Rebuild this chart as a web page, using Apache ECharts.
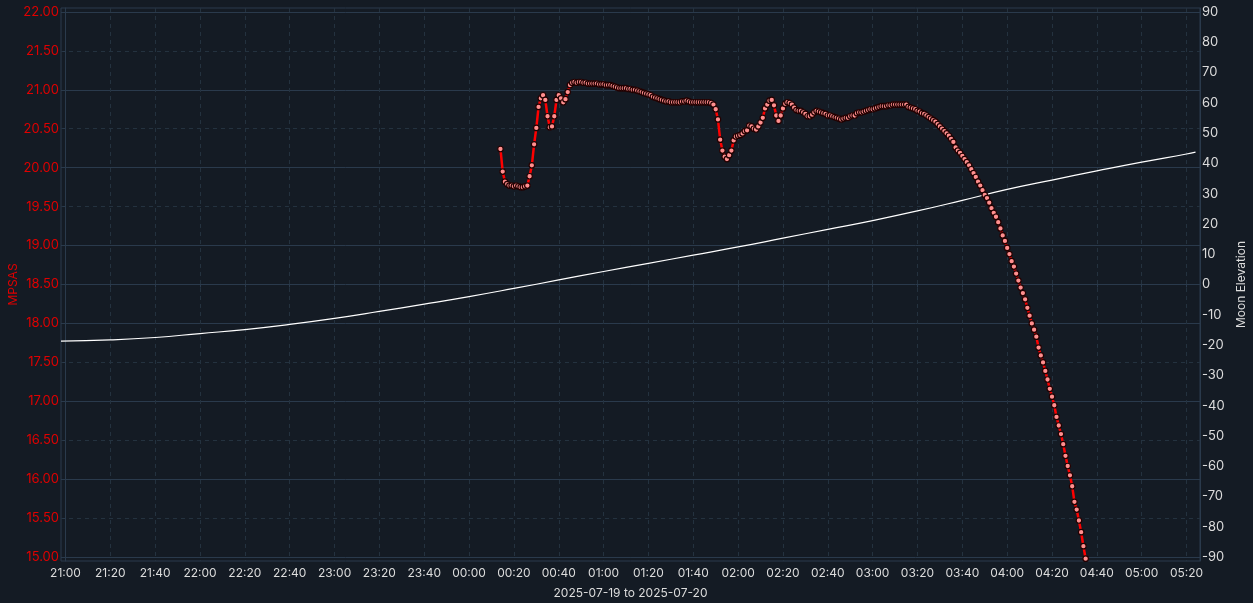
<!DOCTYPE html>
<html>
<head>
<meta charset="utf-8">
<script src="https://cdn.jsdelivr.net/npm/echarts@6/dist/echarts.min.js"></script>
<style>
html,body{margin:0;padding:0;background:#141b24;}
#chart{width:1253px;height:603px;}
</style>
</head>
<body>
<div id="chart"></div>
<script>
// ---- data ----
const axisTitle = '2025-07-19 to 2025-07-20';
const mpsasTicks = [15, 15.5, 16, 16.5, 17, 17.5, 18, 18.5, 19, 19.5, 20, 20.5, 21, 21.5, 22];
const mpsasMajor = [15, 16, 17, 18, 19, 20, 21, 22];
const moonTicks = [-90, -80, -70, -60, -50, -40, -30, -20, -10, 0, 10, 20, 30, 40, 50, 60, 70, 80, 90];
const timeTicks = ['21:00','21:20','21:40','22:00','22:20','22:40','23:00','23:20','23:40','00:00','00:20','00:40',
  '01:00','01:20','01:40','02:00','02:20','02:40','03:00','03:20','03:40','04:00','04:20','04:40','05:00','05:20'];

// Moon elevation samples (clock time, degrees)
const moonTimes = ['20:58','21:20','21:40','22:00','22:20','22:40','23:00','23:20','23:40','00:00','00:20','00:40',
  '01:00','01:20','01:40','02:00','02:20','02:40','03:00','03:20','03:40','04:00','04:20','04:40','05:00','05:20','05:24'];
const moonElev = [-18.7,-18.3,-17.5,-16.2,-14.9,-13.2,-11.2,-8.9,-6.5,-4.0,-1.3,1.5,4.3,7.0,9.7,12.4,15.3,18.2,21.1,24.3,27.8,31.4,34.5,37.5,40.4,43.1,43.7];

// MPSAS readings, one per minute starting at 00:14
const mpsasStart = '00:14';
const mpsasStepMinutes = 1;
const mpsas = [
20.24,19.95,19.82,19.79,19.77,19.77,19.76,19.77,19.76,19.75,19.75,19.76,19.77,19.89,20.03,20.30,20.51,20.78,20.89,20.93,
20.87,20.66,20.52,20.53,20.66,20.87,20.93,20.89,20.84,20.88,20.97,21.06,21.09,21.10,21.09,21.10,21.10,21.09,21.09,21.08,
21.08,21.08,21.08,21.08,21.07,21.07,21.07,21.06,21.06,21.06,21.05,21.04,21.03,21.02,21.02,21.02,21.02,21.01,21.01,21.00,
21.00,20.99,20.98,20.97,20.96,20.95,20.94,20.93,20.91,20.90,20.89,20.88,20.87,20.86,20.85,20.85,20.84,20.84,20.84,20.84,
20.84,20.85,20.85,20.86,20.85,20.84,20.84,20.84,20.84,20.84,20.84,20.84,20.84,20.84,20.83,20.81,20.75,20.62,20.36,20.22,
20.14,20.11,20.16,20.22,20.35,20.40,20.41,20.42,20.44,20.47,20.48,20.54,20.53,20.50,20.49,20.53,20.58,20.64,20.76,20.81,
20.86,20.87,20.80,20.67,20.60,20.67,20.76,20.82,20.84,20.83,20.81,20.77,20.74,20.73,20.73,20.71,20.69,20.66,20.66,20.68,
20.71,20.73,20.72,20.71,20.70,20.69,20.67,20.67,20.66,20.65,20.64,20.63,20.62,20.63,20.64,20.64,20.66,20.67,20.67,20.70,
20.71,20.71,20.72,20.73,20.74,20.75,20.75,20.76,20.77,20.78,20.79,20.79,20.79,20.80,20.80,20.81,20.81,20.81,20.81,20.81,
20.81,20.81,20.78,20.77,20.76,20.75,20.73,20.72,20.70,20.69,20.67,20.65,20.63,20.61,20.59,20.56,20.53,20.50,20.47,20.44,
20.41,20.37,20.33,20.26,20.22,20.19,20.15,20.11,20.07,20.03,19.98,19.93,19.88,19.82,19.77,19.71,19.65,19.61,19.55,19.48,
19.42,19.37,19.30,19.22,19.13,19.06,18.97,18.89,18.80,18.73,18.64,18.55,18.46,18.39,18.31,18.20,18.10,18.00,17.92,17.83,
17.69,17.59,17.50,17.39,17.28,17.16,17.06,16.95,16.80,16.69,16.58,16.45,16.30,16.17,16.05,15.91,15.71,15.61,15.47,15.32,
15.14,14.98];

const xMin = '20:58';
const xMax = '05:26';

// ---- build: x values are minutes after 21:00 on 2025-07-19 ----
function mins(s){
  const [h,m] = s.split(':').map(Number);
  let v = (h*60 + m) - 21*60;
  if (v < -180) v += 24*60;
  return v;
}
function fmt(v){
  let t = Math.round(v) + 21*60;
  t = ((t % 1440) + 1440) % 1440;
  const h = Math.floor(t/60), m = t % 60;
  return String(h).padStart(2,'0') + ':' + String(m).padStart(2,'0');
}
const tickVals = timeTicks.map(mins);
const moonData = moonTimes.map((t,i)=>[mins(t), moonElev[i]]);
const m0 = mins(mpsasStart);
const mpsasData = mpsas.map((v,i)=>[m0 + i*mpsasStepMinutes, v]);

const FONT = 'Inter, "Noto Sans", sans-serif';
const gridCol = '#2a3a4c';
const dashCol = '#24323f';
const labelCol = '#dcdcdc';

const chart = echarts.init(document.getElementById('chart'), null, {renderer:'canvas'});
chart.setOption({
  backgroundColor: '#141b24',
  animation: false,
  textStyle: {fontFamily: FONT},
  grid: {left: 61, right: 53, top: 8, bottom: 42, show: true, borderColor: gridCol, borderWidth: 1,
    backgroundColor: 'transparent', containLabel: false, outerBoundsMode: 'none'},
  xAxis: {
    type: 'value',
    min: mins(xMin), max: mins(xMax),
    name: axisTitle, nameLocation: 'middle', nameGap: 26, nameMoveOverlap: false,
    nameTextStyle: {color: labelCol, fontSize: 12, fontFamily: FONT},
    axisLine: {show: true, lineStyle: {color: gridCol}},
    axisTick: {show: true, length: 3, customValues: tickVals, lineStyle: {color: gridCol}},
    axisLabel: {color: labelCol, fontSize: 12, fontFamily: FONT, margin: 6, customValues: tickVals,
      formatter: v => fmt(v)},
    splitLine: {show: true, lineStyle: {color: dashCol, type: [4,4]}}
  },
  yAxis: [
    {
      type: 'value', position: 'left', min: 14.95, max: 22.05,
      name: 'MPSAS', nameLocation: 'middle', nameGap: 42, nameMoveOverlap: false,
      nameTextStyle: {color: '#e00000', fontSize: 12, fontFamily: FONT},
      axisLine: {show: true, lineStyle: {color: gridCol}},
      axisTick: {show: true, length: 3, customValues: mpsasTicks, lineStyle: {color: gridCol}},
      axisLabel: {color: '#e00000', fontSize: 13, fontFamily: FONT, margin: 2, customValues: mpsasTicks,
        formatter: v => v.toFixed(2)},
      splitLine: {show: true, lineStyle: {color: dashCol, type: [4,4]}}
    },
    {
      type: 'value', position: 'right', min: -91.32, max: 91.32,
      name: 'Moon Elevation', nameLocation: 'middle', nameGap: 35, nameMoveOverlap: false,
      nameTextStyle: {color: labelCol, fontSize: 12, fontFamily: FONT},
      axisLine: {show: true, lineStyle: {color: gridCol}},
      axisTick: {show: false, customValues: moonTicks},
      axisLabel: {color: labelCol, fontSize: 13, fontFamily: FONT, margin: 2, customValues: moonTicks},
      splitLine: {show: false}
    },
    {
      type: 'value', position: 'left', min: 14.95, max: 22.05,
      axisLine: {show: false}, axisLabel: {show: false},
      axisTick: {show: false, customValues: mpsasMajor},
      splitLine: {show: true, lineStyle: {color: gridCol, type: 'solid'}}
    }
  ],
  series: [
    {
      name: 'Moon Elevation', type: 'line', yAxisIndex: 1, data: moonData,
      smooth: true, showSymbol: false, symbol: 'none',
      lineStyle: {color: '#ffffff', width: 1.2}, z: 2
    },
    {
      name: 'MPSAS', type: 'line', yAxisIndex: 0, data: mpsasData,
      symbol: 'circle', symbolSize: 5.5, showAllSymbol: true,
      lineStyle: {color: '#ff0000', width: 2.5},
      itemStyle: {color: '#ff8f8f', borderColor: '#220000', borderWidth: 1.2},
      z: 3
    }
  ]
});
</script>
</body>
</html>
